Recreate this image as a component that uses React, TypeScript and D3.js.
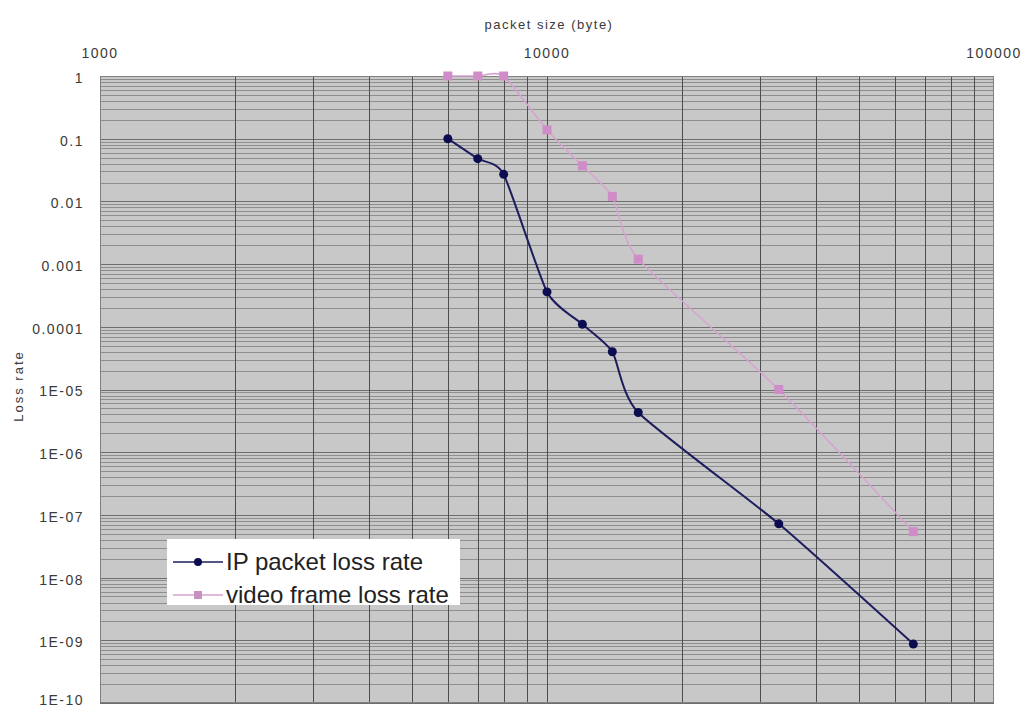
import React, { useEffect, useRef } from 'react';
import * as d3 from 'd3';

// packet sizes (byte)
const packetSizes = [6000, 7000, 8000, 10000, 12000, 14000, 16000, 33000, 66000];
const ipLossRate = [0.1, 0.048, 0.027, 3.6e-4, 1.1e-4, 4e-5, 4.3e-6, 7.2e-8, 8.7e-10];
const videoLossRate = [1, 1, 1, 0.138, 0.037, 0.012, 0.0012, 1e-5, 5.4e-8];

const xTickValues = [1000, 10000, 100000];
const xTickLabels = ['1000', '10000', '100000'];
const yTickValues = [1, 0.1, 0.01, 0.001, 1e-4, 1e-5, 1e-6, 1e-7, 1e-8, 1e-9, 1e-10];
const yTickLabels = ['1', '0.1', '0.01', '0.001', '0.0001', '1E-05', '1E-06', '1E-07', '1E-08', '1E-09', '1E-10'];

const seriesNames = ['IP packet loss rate', 'video frame loss rate'];

const App = () => {
  const svgRef = useRef<SVGSVGElement>(null);

  useEffect(() => {
    const width = 1034;
    const height = 710;
    const plot = { left: 100, right: 994, top: 76, bottom: 703 };
    const font = '"Liberation Sans", Arial, sans-serif';

    const svg = d3.select(svgRef.current)
      .attr('width', width)
      .attr('height', height);
    svg.selectAll('*').remove();

    svg.append('rect')
      .attr('width', width)
      .attr('height', height)
      .attr('fill', '#ffffff');

    const x = d3.scaleLog().domain([1000, 100000]).range([plot.left, plot.right]);
    const y = d3.scaleLog().domain([1, 1e-10]).range([plot.top, plot.bottom]);

    // plot area
    svg.append('rect')
      .attr('x', plot.left)
      .attr('y', plot.top)
      .attr('width', plot.right - plot.left)
      .attr('height', plot.bottom - plot.top)
      .attr('fill', '#c8c8c8');

    // horizontal grid: 1..9 of every decade
    const yGrid = d3.range(-10, 0).flatMap(e => d3.range(1, 10).map(k => k * Math.pow(10, e)));
    svg.append('g')
      .selectAll('line')
      .data(yGrid)
      .join('line')
      .attr('x1', plot.left)
      .attr('x2', plot.right)
      .attr('y1', d => Math.round(y(d)) + 0.5)
      .attr('y2', d => Math.round(y(d)) + 0.5)
      .attr('stroke', (d, i) => (i % 9 === 0 ? '#6e6e6e' : '#8e8e8e'))
      .attr('stroke-width', 1);

    // vertical grid
    const xGrid = x.ticks(20).filter(d => d > 1000 && d < 100000);
    svg.append('g')
      .selectAll('line')
      .data(xGrid)
      .join('line')
      .attr('x1', d => Math.round(x(d)) + 0.5)
      .attr('x2', d => Math.round(x(d)) + 0.5)
      .attr('y1', plot.top)
      .attr('y2', plot.bottom)
      .attr('stroke', '#4e4e4e')
      .attr('stroke-width', 1);

    svg.append('rect')
      .attr('x', plot.left + 0.5)
      .attr('y', plot.top + 0.5)
      .attr('width', plot.right - plot.left - 1)
      .attr('height', plot.bottom - plot.top - 1)
      .attr('fill', 'none')
      .attr('stroke', '#808080');

    // axis labels
    svg.append('g')
      .selectAll('text')
      .data(xTickValues)
      .join('text')
      .attr('x', d => x(d))
      .attr('y', 53)
      .attr('dy', '0.35em')
      .attr('text-anchor', 'middle')
      .attr('font-family', font)
      .attr('font-size', 14)
      .attr('letter-spacing', 1.5)
      .attr('fill', '#3a3a3a')
      .text((d, i) => xTickLabels[i]);

    svg.append('g')
      .selectAll('text')
      .data(yTickValues)
      .join('text')
      .attr('x', 84)
      .attr('y', d => Math.min(y(d) + 2, 700))
      .attr('dy', '0.35em')
      .attr('text-anchor', 'end')
      .attr('font-family', font)
      .attr('font-size', 14)
      .attr('letter-spacing', 1.5)
      .attr('fill', '#3a3a3a')
      .text((d, i) => yTickLabels[i]);

    svg.append('text')
      .attr('x', 549)
      .attr('y', 24)
      .attr('dy', '0.35em')
      .attr('text-anchor', 'middle')
      .attr('font-family', font)
      .attr('font-size', 13)
      .attr('letter-spacing', 1.5)
      .attr('fill', '#3a3a3a')
      .text('packet size (byte)');

    svg.append('text')
      .attr('transform', 'translate(18,386) rotate(-90)')
      .attr('dy', '0.35em')
      .attr('text-anchor', 'middle')
      .attr('font-family', font)
      .attr('font-size', 13)
      .attr('letter-spacing', 2)
      .attr('fill', '#3a3a3a')
      .text('Loss rate');

    // smoothed lines, like the spreadsheet's "smoothed line" option
    const line = d3.line<[number, number]>()
      .x(d => x(d[0]))
      .y(d => y(d[1]))
      .curve(d3.curveCardinal.tension(0.4));

    const videoData = packetSizes.map((s, i) => [s, videoLossRate[i]] as [number, number]);
    const ipData = packetSizes.map((s, i) => [s, ipLossRate[i]] as [number, number]);

    svg.append('path')
      .datum(videoData)
      .attr('d', line)
      .attr('fill', 'none')
      .attr('stroke', '#d9a0d2')
      .attr('stroke-width', 1.5);

    svg.append('g')
      .selectAll('rect')
      .data(videoData)
      .join('rect')
      .attr('x', d => x(d[0]) - 4.5)
      .attr('y', d => y(d[1]) - 4.5)
      .attr('width', 9)
      .attr('height', 9)
      .attr('fill', '#d08cc8');

    svg.append('path')
      .datum(ipData)
      .attr('d', line)
      .attr('fill', 'none')
      .attr('stroke', '#1c1c5e')
      .attr('stroke-width', 2);

    svg.append('g')
      .selectAll('circle')
      .data(ipData)
      .join('circle')
      .attr('cx', d => x(d[0]))
      .attr('cy', d => y(d[1]))
      .attr('r', 4.5)
      .attr('fill', '#0c0c50');

    // legend
    const legend = svg.append('g');
    legend.append('rect')
      .attr('x', 167)
      .attr('y', 539)
      .attr('width', 293)
      .attr('height', 66)
      .attr('fill', '#ffffff');

    const rows = legend.selectAll('g')
      .data(seriesNames)
      .join('g')
      .attr('transform', (d, i) => `translate(0,${562 + i * 33})`);

    rows.append('line')
      .attr('x1', 173)
      .attr('x2', 223)
      .attr('stroke', (d, i) => (i === 0 ? '#1c1c5e' : '#d9a0d2'))
      .attr('stroke-width', 1.5);

    rows.filter((d, i) => i === 0)
      .append('circle')
      .attr('cx', 198)
      .attr('r', 4)
      .attr('fill', '#0c0c50');

    rows.filter((d, i) => i === 1)
      .append('rect')
      .attr('x', 194)
      .attr('y', -4)
      .attr('width', 8)
      .attr('height', 8)
      .attr('fill', '#c890c0');

    rows.append('text')
      .attr('x', 226)
      .attr('dy', '0.35em')
      .attr('font-family', font)
      .attr('font-size', 24)
      .attr('fill', '#222222')
      .text(d => d);
  }, []);

  return (
    <svg ref={svgRef} style={{ position: 'absolute', left: 0, top: 0 }}></svg>
  );
};

export default App;
